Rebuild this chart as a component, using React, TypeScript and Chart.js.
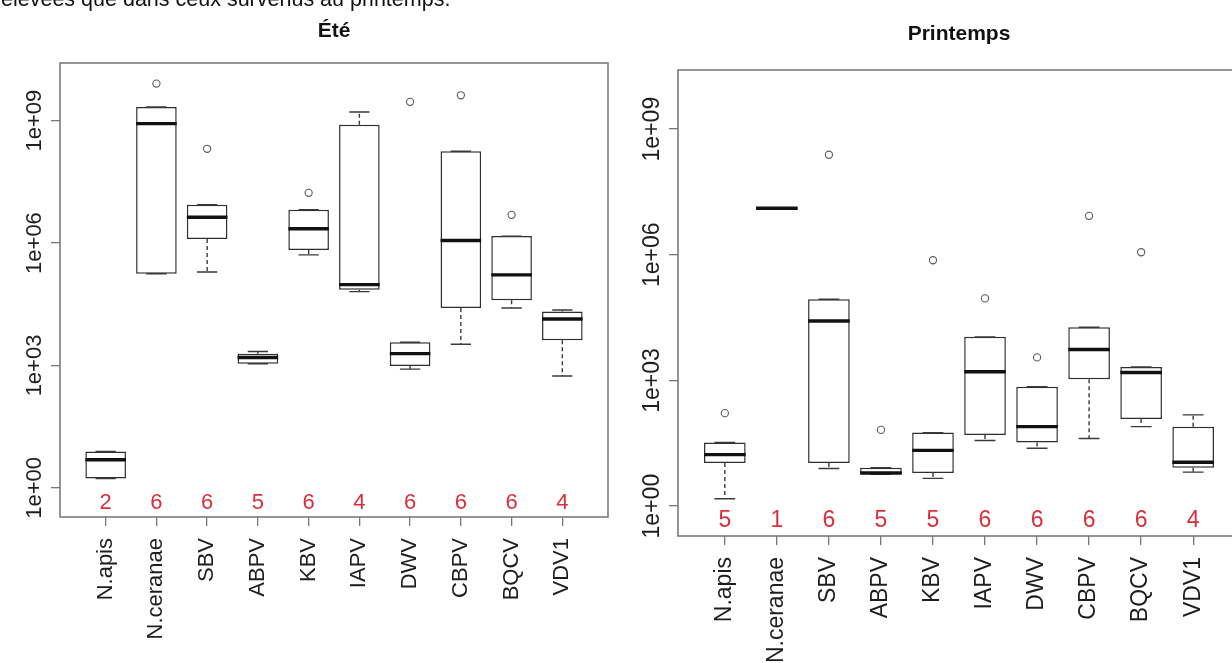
import React, { useEffect, useRef } from "react";
import { Chart, registerables } from "chart.js";

Chart.register(...registerables);

// ---------- data ----------
const CATEGORIES = ["N.apis", "N.ceranae", "SBV", "ABPV", "KBV", "IAPV", "DWV", "CBPV", "BQCV", "VDV1"];
const Y_TICK_VALUES = [1, 1e3, 1e6, 1e9];
const Y_TICK_LABELS = ["1e+00", "1e+03", "1e+06", "1e+09"];

// Été (summer)
const ETE_LOWER = [1.7, 1.77e5, 1.95e5, 1.1e3, 5.13e5, 6.46e4, 813, 3.31e3, 2.57e4, 550];
const ETE_Q1 = [1.7, 1.77e5, 1.26e6, 1.1e3, 6.76e5, 7.16e4, 977, 2.57e4, 3.98e4, 4.17e3];
const ETE_MEDIAN = [4.9, 8.43e8, 4.27e6, 1.57e3, 2.24e6, 9.55e4, 1.95e3, 1.15e6, 1.66e5, 1.38e4];
const ETE_Q3 = [7.8, 2.16e9, 8.71e6, 1.93e3, 6.56e6, 7.94e8, 3.72e3, 1.78e8, 1.48e6, 2.09e4];
const ETE_UPPER = [7.8, 2.16e9, 8.71e6, 2.19e3, 6.56e6, 1.62e9, 3.72e3, 1.78e8, 1.48e6, 2.29e4];
const ETE_OUTLIER: (number | null)[] = [null, 8.07e9, 2.04e8, null, 1.7e7, null, 2.88e9, 4.17e9, 4.9e6, null];
const ETE_N = [2, 6, 6, 5, 6, 4, 6, 6, 6, 4];

// Printemps (spring)
const PRI_LOWER = [1.5, 1.29e7, 7.9, 5.75, 4.6, 37, 24, 41, 79, 6.5];
const PRI_Q1 = [10.7, 1.29e7, 10.7, 5.75, 6.2, 50, 33, 1.07e3, 120, 8.3];
const PRI_MEDIAN = [17, 1.29e7, 2.63e4, 6.2, 21.4, 1.62e3, 79, 5.5e3, 1.55e3, 11.2];
const PRI_Q3 = [33, 1.29e7, 8.7e4, 8.3, 57, 1.1e4, 708, 1.86e4, 2.09e3, 79];
const PRI_UPPER = [33, 1.29e7, 8.7e4, 8.3, 57, 1.1e4, 708, 1.86e4, 2.09e3, 151];
const PRI_OUTLIER: (number | null)[] = [166, null, 2.45e8, 66, 7.4e5, 9.1e4, 3.55e3, 8.5e6, 1.15e6, null];
const PRI_N = [5, 1, 6, 5, 5, 6, 6, 6, 6, 4];

const HEADER_TEXT = "élevées que dans ceux survenus au printemps.";

// ---------- axis limits / style ----------
const Y_MIN = 0.1936;
const Y_MAX = 2.58e10;
const X_MIN = 0.1;
const X_MAX = 10.9;
const COUNT_LABEL_Y = 0.44;
const H = 663;
const FONT = '"Liberation Sans", Arial, Helvetica, sans-serif';

type Spec = {
  title: string;
  titleBaseline: number;
  fontSize: number;
  lower: number[];
  q1: number[];
  median: number[];
  q3: number[];
  upper: number[];
  outliers: (number | null)[];
  counts: number[];
  left: number;
  width: number;
  area: { left: number; top: number; right: number; bottom: number };
};

function Panel({ spec }: { spec: Spec }) {
  const ref = useRef<HTMLCanvasElement | null>(null);
  useEffect(() => {
    const canvas = ref.current;
    if (!canvas) return;
    const { area } = spec;

    const decor = {
      id: "rdecor",
      beforeDatasetsDraw(chart: any) {
        const ctx = chart.ctx;
        const ca = chart.chartArea;
        ctx.save();
        ctx.strokeStyle = "#7a7a7a";
        ctx.lineWidth = 1.6;
        ctx.strokeRect(ca.left, ca.top, ca.right - ca.left, ca.bottom - ca.top);
        ctx.restore();
      },
      afterDatasetsDraw(chart: any) {
        const ctx = chart.ctx;
        const ys = chart.scales.y;
        const meta = chart.getDatasetMeta(0);
        ctx.save();
        meta.data.forEach((el: any, i: number) => {
          const x = el.x;
          const w = el.width;
          const yq1 = ys.getPixelForValue(spec.q1[i]);
          const yq3 = ys.getPixelForValue(spec.q3[i]);
          const ylo = ys.getPixelForValue(spec.lower[i]);
          const yhi = ys.getPixelForValue(spec.upper[i]);
          const ymed = ys.getPixelForValue(spec.median[i]);
          // whiskers (dashed)
          ctx.strokeStyle = "#3a3a3a";
          ctx.lineWidth = 1.4;
          ctx.setLineDash([4, 3]);
          ctx.beginPath();
          if (ylo - yq1 > 1) {
            ctx.moveTo(x, yq1);
            ctx.lineTo(x, ylo);
          }
          if (yq3 - yhi > 1) {
            ctx.moveTo(x, yq3);
            ctx.lineTo(x, yhi);
          }
          ctx.stroke();
          ctx.setLineDash([]);
          // staples
          ctx.beginPath();
          ctx.moveTo(x - w / 4, ylo);
          ctx.lineTo(x + w / 4, ylo);
          ctx.moveTo(x - w / 4, yhi);
          ctx.lineTo(x + w / 4, yhi);
          ctx.stroke();
          // median
          ctx.strokeStyle = "#111";
          ctx.lineWidth = 3.4;
          ctx.beginPath();
          ctx.moveTo(x - w / 2, ymed);
          ctx.lineTo(x + w / 2, ymed);
          ctx.stroke();
        });
        ctx.restore();
      },
      afterDraw(chart: any) {
        const ctx = chart.ctx;
        const ca = chart.chartArea;
        const xs = chart.scales.x;
        const ys = chart.scales.y;
        ctx.save();
        // y tick labels, rotated like R (las = 0)
        ctx.fillStyle = "#1e1e1e";
        ctx.font = `${spec.fontSize}px ${FONT}`;
        ctx.textAlign = "center";
        ctx.textBaseline = "alphabetic";
        Y_TICK_VALUES.forEach((v, i) => {
          const y = ys.getPixelForValue(v);
          ctx.save();
          ctx.translate(ca.left - 19, y);
          ctx.rotate(-Math.PI / 2);
          ctx.fillText(Y_TICK_LABELS[i], 0, 0);
          ctx.restore();
        });
        // sample counts in red
        ctx.fillStyle = "#d8303a";
        ctx.textBaseline = "middle";
        const yc = ys.getPixelForValue(COUNT_LABEL_Y);
        spec.counts.forEach((n, i) => {
          ctx.fillText(String(n), xs.getPixelForValue(i + 1), yc);
        });
        // title
        ctx.fillStyle = "#111";
        ctx.font = `bold 21px ${FONT}`;
        ctx.textBaseline = "alphabetic";
        ctx.fillText(spec.title, (ca.left + ca.right) / 2, spec.titleBaseline);
        ctx.restore();
      },
    };

    const gridOpts = {
      display: true,
      drawOnChartArea: false,
      drawTicks: true,
      tickLength: 9,
      color: "#777",
      lineWidth: 1.3,
      offset: false,
    };

    const chart = new Chart(canvas, {
      type: "bar",
      data: {
        datasets: [
          {
            type: "bar",
            data: CATEGORIES.map((_, i) => ({ x: i + 1, y: [spec.q1[i], spec.q3[i]] })) as any,
            backgroundColor: "#ffffff",
            borderColor: "#2e2e2e",
            borderWidth: 1.5,
            borderSkipped: false,
            barPercentage: 0.8,
            categoryPercentage: 1,
            order: 2,
          } as any,
          {
            type: "scatter",
            data: spec.outliers
              .map((v, i) => (v === null ? null : { x: i + 1, y: v }))
              .filter((p) => p !== null) as any,
            pointRadius: 3.6,
            pointHoverRadius: 3.6,
            pointStyle: "circle",
            borderColor: "#5a5a5a",
            backgroundColor: "rgba(0,0,0,0)",
            borderWidth: 1.1,
            showLine: false,
            order: 1,
          } as any,
        ],
      },
      options: {
        responsive: false,
        animation: false,
        devicePixelRatio: 1,
        events: [],
        layout: { padding: { top: area.top, right: spec.width - area.right, left: 0, bottom: 0 } },
        plugins: { legend: { display: false }, tooltip: { enabled: false }, title: { display: false } },
        scales: {
          x: {
            type: "linear",
            min: X_MIN,
            max: X_MAX,
            offset: false,
            bounds: "data",
            afterBuildTicks: (s: any) => {
              s.ticks = CATEGORIES.map((_, i) => ({ value: i + 1 }));
            },
            afterFit: (s: any) => {
              s.height = H - area.bottom;
            },
            ticks: {
              autoSkip: false,
              minRotation: 90,
              maxRotation: 90,
              padding: 12,
              color: "#1e1e1e",
              font: { family: FONT, size: spec.fontSize },
              callback: (v: any) => CATEGORIES[Math.round(Number(v)) - 1] ?? "",
            },
            grid: gridOpts,
            border: { display: false },
          } as any,
          y: {
            type: "logarithmic",
            min: Y_MIN,
            max: Y_MAX,
            bounds: "data",
            afterBuildTicks: (s: any) => {
              s.ticks = Y_TICK_VALUES.map((v) => ({ value: v }));
            },
            afterFit: (s: any) => {
              s.width = area.left;
            },
            ticks: { display: false },
            grid: gridOpts,
            border: { display: false },
          } as any,
        },
      },
      plugins: [decor],
    });
    return () => chart.destroy();
  }, [spec]);

  return (
    <canvas
      ref={ref}
      width={spec.width}
      height={H}
      style={{ position: "absolute", left: spec.left, top: 0, width: spec.width, height: H }}
    />
  );
}

const LEFT_SPEC: Spec = {
  title: "Été",
  titleBaseline: 37,
  fontSize: 22,
  lower: ETE_LOWER,
  q1: ETE_Q1,
  median: ETE_MEDIAN,
  q3: ETE_Q3,
  upper: ETE_UPPER,
  outliers: ETE_OUTLIER,
  counts: ETE_N,
  left: 0,
  width: 620,
  area: { left: 60, top: 63, right: 608, bottom: 517 },
};

const RIGHT_SPEC: Spec = {
  title: "Printemps",
  titleBaseline: 40,
  fontSize: 23,
  lower: PRI_LOWER,
  q1: PRI_Q1,
  median: PRI_MEDIAN,
  q3: PRI_Q3,
  upper: PRI_UPPER,
  outliers: PRI_OUTLIER,
  counts: PRI_N,
  left: 620,
  width: 640,
  area: { left: 58, top: 70, right: 620, bottom: 536 },
};

export default function App() {
  return (
    <div
      style={{
        position: "fixed",
        left: 0,
        top: 0,
        width: 1232,
        height: H,
        overflow: "hidden",
        background: "#fff",
      }}
    >
      <Panel spec={LEFT_SPEC} />
      <Panel spec={RIGHT_SPEC} />
      <div
        style={{
          position: "absolute",
          left: 1,
          top: -11,
          fontFamily: FONT,
          fontSize: 21.5,
          lineHeight: 1,
          color: "#111",
          whiteSpace: "nowrap",
        }}
      >
        {HEADER_TEXT}
      </div>
    </div>
  );
}
